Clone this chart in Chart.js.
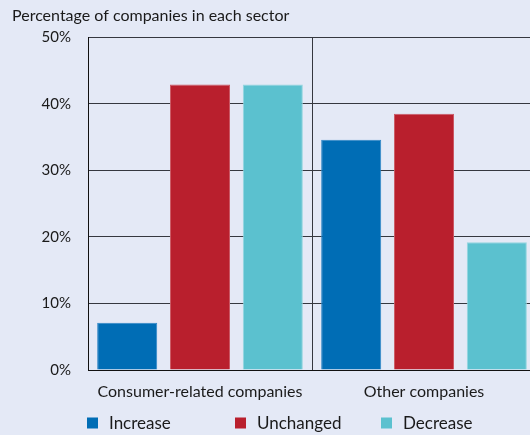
<!DOCTYPE html>
<html>
<head>
<meta charset="utf-8">
<script src="https://cdn.jsdelivr.net/npm/chart.js@4/dist/chart.umd.min.js"></script>
<style>
  html, body { margin: 0; padding: 0; background: #e4e9f6; overflow: hidden; }
  #wrap { width: 536px; height: 435px; }
</style>
</head>
<body>
<div id="wrap"><canvas id="myChart" width="536" height="435"></canvas></div>
<script>
const sectors = ['Consumer-related companies', 'Other companies'];
const increase = [7.1, 34.6];
const unchanged = [42.9, 38.5];
const decrease = [42.9, 19.2];
const yTicks = [0, 10, 20, 30, 40, 50];

const FONT = 'Lato, "DejaVu Sans", sans-serif';
const GRID = '#35383f';

// legend laid out in fixed columns under the axis
const columnLegend = {
    id: 'columnLegend',
    afterDraw(chart, args, opts) {
        const ctx = chart.ctx;
        ctx.save();
        ctx.font = opts.font;
        ctx.textBaseline = 'middle';
        chart.data.datasets.forEach((ds, i) => {
            const x = opts.columns[i];
            ctx.fillStyle = ds.backgroundColor;
            ctx.fillRect(x, opts.y - opts.box / 2, opts.box, opts.box);
            ctx.fillStyle = '#1a1a1a';
            ctx.fillText(ds.label, x + opts.box + 11, opts.y + 1);
        });
        ctx.restore();
    }
};

let ctx = document.getElementById('myChart').getContext('2d');
let myChart = new Chart(ctx, {
    type: 'bar',
    data: {
        labels: sectors,
        datasets: [
            { label: 'Increase', data: increase, backgroundColor: '#006db5', borderColor: '#2e86c6' },
            { label: 'Unchanged', data: unchanged, backgroundColor: '#b91f2d', borderColor: '#cc5a66' },
            { label: 'Decrease', data: decrease, backgroundColor: '#5bc1cf', borderColor: '#93d6df' }
        ]
    },
    options: {
        responsive: false,
        animation: false,
        layout: { padding: { left: 12, right: 0, top: 0, bottom: 0 } },
        datasets: {
            bar: { categoryPercentage: 0.975, barPercentage: 0.825, borderWidth: 1 }
        },
        scales: {
            x: {
                grid: { offset: true, color: GRID, lineWidth: 1, drawTicks: false },
                border: { color: '#111', width: 1 },
                ticks: { color: '#1a1a1a', padding: 12, font: { family: FONT, size: 16 } },
                afterFit: s => { s.height = 65; }
            },
            y: {
                min: 0,
                max: 50,
                afterBuildTicks: s => { s.ticks = yTicks.map(v => ({ value: v })); },
                grid: { color: GRID, lineWidth: 1, drawTicks: false },
                border: { color: '#111', width: 1 },
                ticks: {
                    color: '#1a1a1a',
                    padding: 17,
                    font: { family: FONT, size: 15 },
                    callback: v => v + '%'
                },
                afterFit: s => { s.width = 76; }
            }
        },
        plugins: {
            legend: { display: false },
            tooltip: { enabled: false },
            title: {
                display: true,
                text: 'Percentage of companies in each sector',
                align: 'start',
                color: '#1a1a1a',
                font: { family: FONT, size: 16, weight: 'normal' },
                padding: { top: 6, bottom: 12 }
            },
            columnLegend: {
                columns: [87, 235, 381],
                y: 423,
                box: 11,
                font: '17px ' + FONT
            }
        }
    },
    plugins: [columnLegend]
});
</script>
</body>
</html>
